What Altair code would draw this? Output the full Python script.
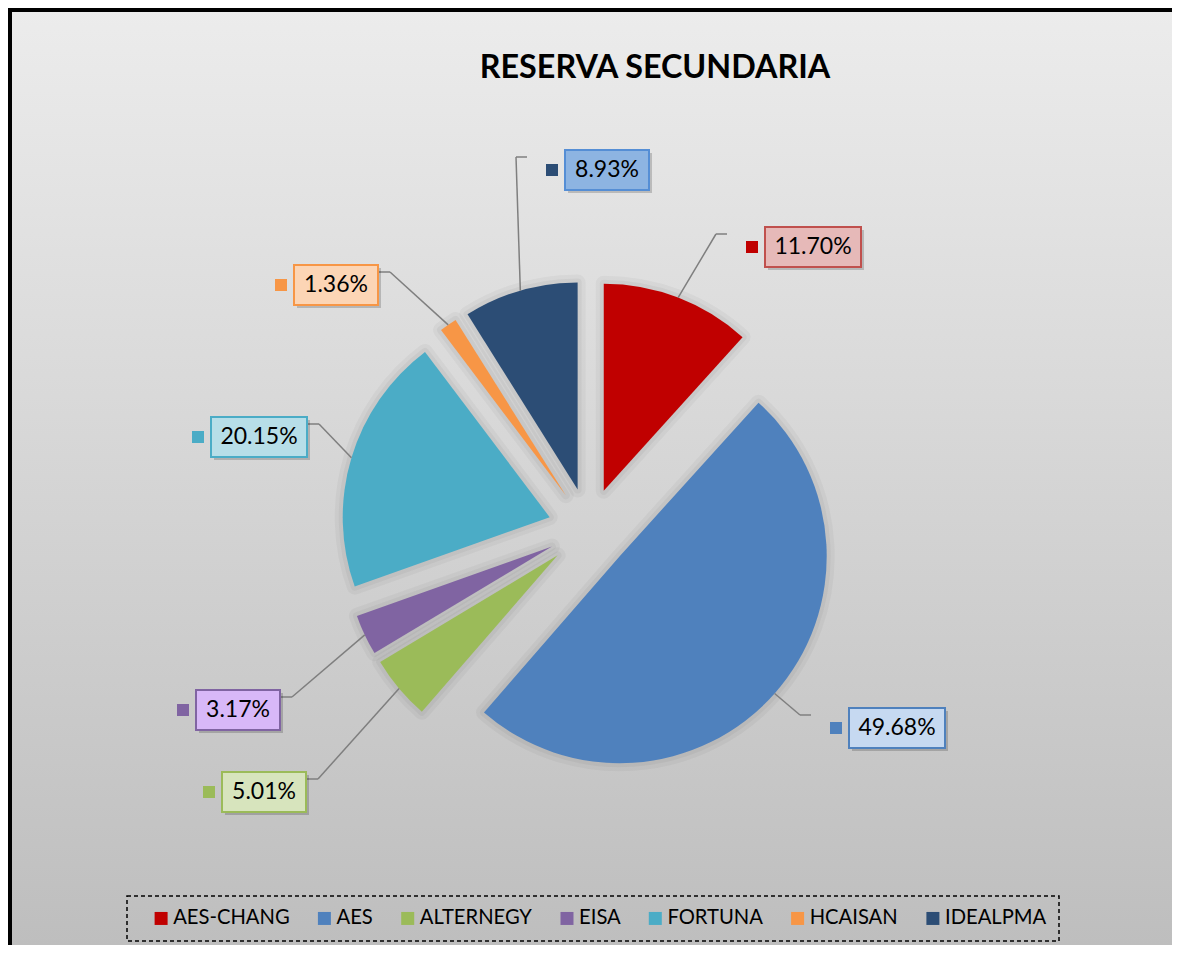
import altair as alt
import pandas as pd

# ---- data ----
names = ["AES-CHANG", "AES", "ALTERNEGY", "EISA", "FORTUNA", "HCAISAN", "IDEALPMA"]
shares = [11.70, 49.68, 5.01, 3.17, 20.15, 1.36, 8.93]
order = [1, 2, 3, 4, 5, 6, 7]

# ---- layout of the data-label boxes (centre, px from pie centre, y up) ----
label_dx = [224, 308, -325, -351, -330, -253, 18]
label_dy = [282, -199, -263, -181, 92, 244, 359]

# ---- styles ----
slice_colors = ["#C00000", "#4F81BD", "#9BBB59", "#8064A2", "#4BACC6", "#F79646", "#2C4D75"]
box_fills = ["#E6B9B8", "#C6D9F1", "#D7E4BD", "#D8B8F8", "#B7DEE8", "#FCD5B5", "#8DB4E2"]
box_strokes = ["#C0504D", "#4F81BD", "#9BBB59", "#8064A2", "#4BACC6", "#F79646", "#558ED5"]

W, H = 1164, 937
CX, CY = 581, 521      # pie centre inside the view
R, D = 207, 41         # pie radius, explosion distance

df = pd.DataFrame({"name": names, "value": shares, "order": order,
                   "ldx": label_dx, "ldy": label_dy})
one = pd.DataFrame({"k": [0]})

xs = alt.Scale(domain=[-CX, W - CX], nice=False, zero=False)
ys = alt.Scale(domain=[-(H - CY), CY], nice=False, zero=False)


def X(f):
    return alt.X(f, type="quantitative", scale=xs, axis=None, stack=None)


def Y(f):
    return alt.Y(f, type="quantitative", scale=ys, axis=None, stack=None)


base = alt.Chart(df).transform_window(
    cum="sum(value)", sort=[alt.SortField("order")]
).transform_calculate(
    a0="2*PI*(datum.cum - datum.value)/100",
    a1="2*PI*datum.cum/100",
    mid="PI*(2*datum.cum - datum.value)/100",
).transform_calculate(
    ox=f"{D}*sin(datum.mid)",
    oy=f"{D}*cos(datum.mid)",
    px=f"{R + D}*sin(datum.mid)",
    py=f"{R + D}*cos(datum.mid)",
    lab="format(datum.value, '.2f') + '%'",
).transform_calculate(
    bw="12*length(datum.lab) + 24",
).transform_calculate(
    bl="datum.ldx - datum.bw/2",
    br="datum.ldx + datum.bw/2",
    bt="datum.ldy + 20",
    bb="datum.ldy - 20",
    ly="datum.ldy + 13",
).transform_calculate(
    lx="datum.ldx > 0 ? datum.bl - 38 : datum.br",
    kx="datum.bl - 13",
    sbl="datum.bl + 3", sbr="datum.br + 3",
    sbt="datum.bt - 3", sbb="datum.bb - 3",
).transform_calculate(
    ex="datum.ldx > 0 ? datum.lx - 11 : datum.lx + 12",
)

bg = alt.Chart(one).mark_rect(
    fill=alt.Gradient(gradient="linear",
                      stops=[alt.GradientStop(color="#ECECEC", offset=0),
                             alt.GradientStop(color="#BEBEBE", offset=1)],
                      x1=0, x2=0, y1=0, y2=1)
).encode(x=alt.value(0), x2=alt.value(W), y=alt.value(0), y2=alt.value(H))

border_top = alt.Chart(one).mark_rule(color="black", strokeWidth=4).encode(
    x=alt.value(0), x2=alt.value(W), y=alt.value(2))
border_left = alt.Chart(one).mark_rule(color="black", strokeWidth=4).encode(
    x=alt.value(2), y=alt.value(0), y2=alt.value(H))

arc_enc = dict(x=X("ox"), y=Y("oy"),
               theta=alt.Theta("a0:Q", scale=None, stack=None),
               theta2=alt.Theta2("a1:Q"))

halo1 = base.mark_arc(outerRadius=R, fill="#000000", fillOpacity=0, stroke="#000000",
                      strokeOpacity=0.035, strokeWidth=16, strokeJoin="round").encode(**arc_enc)
halo2 = base.mark_arc(outerRadius=R, fill="#000000", fillOpacity=0, stroke="#000000",
                      strokeOpacity=0.04, strokeWidth=8, strokeJoin="round").encode(**arc_enc)

slices = base.mark_arc(outerRadius=R).encode(
    color=alt.Color("name:N", scale=alt.Scale(domain=names, range=slice_colors),
                    legend=alt.Legend(
                        title=" ", titleOrient="left", titleFontSize=1, titlePadding=12,
                        orient="none", legendX=119, legendY=888,
                        direction="horizontal", columns=7,
                        symbolType="square", symbolSize=169, symbolStrokeWidth=0,
                        labelFont="Lato", labelFontSize=20.2, labelColor="black",
                        labelOffset=2, columnPadding=24.3, padding=12,
                        strokeColor="black")),
    **arc_enc)

lead1 = base.mark_rule(color="#7F7F7F", strokeWidth=1.5).encode(
    x=X("px"), y=Y("py"), x2=alt.X2("ex"), y2=alt.Y2("ly"))
lead2 = base.mark_rule(color="#7F7F7F", strokeWidth=1.5).encode(
    x=X("ex"), y=Y("ly"), x2=alt.X2("lx"), y2=alt.Y2("ly"))

keys = base.mark_square(size=144, opacity=1).encode(
    x=X("kx"), y=Y("ldy"),
    color=alt.Color("name:N", scale=alt.Scale(domain=names, range=slice_colors), legend=None))

shadow = base.mark_rect(fill="#000000", opacity=0.18).encode(
    x=X("sbl"), x2=alt.X2("sbr"), y=Y("sbt"), y2=alt.Y2("sbb"))

boxes = base.mark_rect(strokeWidth=2).encode(
    x=X("bl"), x2=alt.X2("br"), y=Y("bt"), y2=alt.Y2("bb"),
    fill=alt.Fill("name:N", scale=alt.Scale(domain=names, range=box_fills), legend=None),
    stroke=alt.Stroke("name:N", scale=alt.Scale(domain=names, range=box_strokes), legend=None))

texts = base.mark_text(font="Lato", fontSize=23, color="black", align="center",
                       baseline="middle").encode(x=X("ldx"), y=Y("ldy"), text="lab:N")

chart = alt.layer(
    bg, border_top, border_left, halo1, halo2, slices, lead1, lead2, keys, shadow, boxes, texts
).properties(
    width=W, height=H,
    autosize=alt.AutoSizeParams(type="none"),
    padding=0,
    title=alt.TitleParams("RESERVA SECUNDARIA",
                          font="Lato",
                          fontSize=32.3, fontWeight="bold", color="black",
                          anchor="middle", frame="group", offset=0, dx=65, dy=78)
).configure_view(stroke=None).configure_legend(strokeDash=[4, 3], strokeWidth=1.5)

chart.save("out.html", embed_options={"renderer": "svg", "actions": False})
